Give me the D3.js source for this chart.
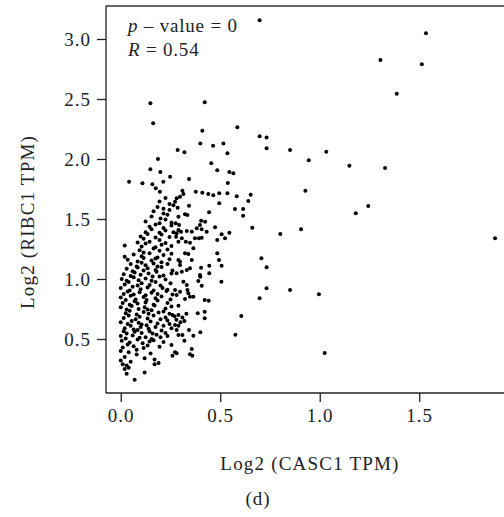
<!DOCTYPE html>
<html>
<head>
<meta charset="utf-8">
<script src="https://cdn.jsdelivr.net/npm/d3@7"></script>
<style>
  body { margin: 0; background: #fff; }
  svg { display: block; }
  text { font-family: "Liberation Serif", "DejaVu Serif", serif; fill: #222; }
</style>
</head>
<body>
<svg id="chart" width="504" height="517"></svg>
<script>
const width = 504;
const height = 517;
const margin = { top: 6, left: 106, bottom: 124, right: 0 };

const xTicks = [0, 0.5, 1.0, 1.5];
const yTicks = [0.5, 1.0, 1.5, 2.0, 2.5, 3.0];
const xTitle = "Log2 (CASC1 TPM)";
const yTitle = "Log2 (RIBC1 TPM)";
const pValue = "0";
const rValue = "0.54";
const panelLabel = "(d)";

// outlying points, read one by one
const sparsePoints = [
  [0.698, 3.156], [1.534, 3.047], [1.305, 2.825], [1.513, 2.79], [1.387, 2.544],
  [0.149, 2.465], [0.422, 2.473], [0.163, 2.297], [0.41, 2.236], [0.586, 2.264],
  [0.698, 2.19], [0.733, 2.18], [0.733, 2.09], [0.851, 2.075], [0.286, 2.075],
  [0.32, 2.056], [0.40, 2.13], [0.464, 2.11], [0.516, 2.13], [0.536, 2.047],
  [0.187, 2.0], [0.455, 1.964], [0.149, 1.914], [0.199, 1.892], [0.485, 1.906],
  [0.546, 1.892], [0.566, 1.881], [0.945, 1.99], [1.033, 2.061], [1.149, 1.944],
  [1.328, 1.925], [0.928, 1.736], [0.653, 1.703], [1.181, 1.547], [1.244, 1.608],
  [1.881, 1.339], [0.661, 1.428], [0.802, 1.375], [0.906, 1.414], [0.707, 1.172],
  [0.733, 1.097], [0.733, 0.922], [0.851, 0.908], [0.698, 0.839], [0.996, 0.872],
  [1.025, 0.383], [0.641, 1.65], [0.615, 1.583], [0.615, 1.528], [0.606, 0.692],
  [0.576, 0.536], [0.506, 0.978], [0.042, 1.81], [0.109, 1.797], [0.159, 1.79],
  [0.176, 1.756], [0.197, 1.727], [0.214, 1.81], [0.248, 1.853], [0.343, 1.833],
  [0.538, 1.80], [0.583, 1.69]
];

// right half of the main cloud (x above ~0.27)
const cloudRight = [
  [0.31,1.736],[0.315,1.708],[0.298,1.686],[0.377,1.727],[0.41,1.719],[0.44,1.708],
  [0.465,1.697],[0.495,1.714],[0.536,1.714],[0.281,1.672],[0.273,1.644],[0.495,1.631],
  [0.343,1.61],[0.574,1.583],[0.286,1.594],[0.444,1.556],[0.323,1.539],[0.335,1.533],
  [0.29,1.519],[0.276,1.464],[0.293,1.45],[0.29,1.408],[0.303,1.394],[0.281,1.381],
  [0.404,1.486],[0.424,1.478],[0.398,1.45],[0.382,1.422],[0.407,1.414],[0.432,1.394],
  [0.474,1.431],[0.332,1.40],[0.357,1.394],[0.507,1.372],[0.524,1.339],[0.546,1.386],
  [0.485,1.325],[0.278,1.353],[0.307,1.339],[0.29,1.311],[0.373,1.339],[0.393,1.339],
  [0.407,1.344],[0.327,1.311],[0.348,1.303],[0.365,1.256],[0.485,1.214],[0.494,1.158],
  [0.507,1.111],[0.323,1.214],[0.34,1.208],[0.29,1.158],[0.298,1.144],[0.357,1.158],
  [0.445,1.111],[0.404,1.094],[0.348,1.089],[0.298,1.117],[0.332,1.075],[0.307,1.061],
  [0.281,1.047],[0.398,1.033],[0.445,1.047],[0.40,1.019],[0.39,0.983],[0.407,0.944],
  [0.315,0.978],[0.332,0.95],[0.335,0.908],[0.298,0.894],[0.34,0.881],[0.348,0.853],
  [0.365,0.853],[0.273,0.908],[0.281,0.867],[0.323,0.833],[0.422,0.825],[0.442,0.819],
  [0.29,0.778],[0.422,0.728],[0.422,0.672],[0.387,0.714],[0.29,0.70],[0.31,0.68],
  [0.28,0.66],[0.30,0.64],[0.32,0.65],[0.29,0.61],[0.27,0.69],[0.33,0.71],
  [0.273,0.617],[0.281,0.575],[0.29,0.533],[0.40,0.556],[0.365,0.528],[0.343,0.575],
  [0.31,0.533],[0.32,0.486],[0.357,0.417],[0.348,0.372],[0.36,0.361],[0.281,0.381],
  [0.273,0.39]
];

// left half of the main cloud, estimated band by band
const cloudLeft = [
  [0.07,0.16],[0.03,0.21],[0.12,0.22],[0.02,0.25],[0.04,0.26],
  [0.01,0.29],[0.03,0.28],[0.17,0.29],[0.19,0.30],
  [0.00,0.32],[0.05,0.31],[0.17,0.33],
  [0.02,0.35],[0.08,0.37],[0.12,0.34],[0.26,0.36],
  [0.00,0.40],[0.04,0.39],[0.08,0.41],[0.15,0.38],
  [0.01,0.43],[0.035,0.455],[0.065,0.44],[0.115,0.425],[0.135,0.445],[0.195,0.435],[0.255,0.45],
  [0.005,0.485],[0.045,0.47],[0.085,0.495],[0.11,0.465],[0.145,0.48],[0.165,0.49],[0.215,0.475],
  [0.0,0.525],[0.025,0.505],[0.06,0.53],[0.095,0.51],[0.125,0.515],[0.155,0.5],[0.18,0.535],[0.2,0.515],[0.235,0.525],
  [0.015,0.565],[0.03,0.545],[0.07,0.56],[0.085,0.575],[0.105,0.55],[0.145,0.565],[0.16,0.545],[0.205,0.57],[0.225,0.55],
  [0.02,0.59],[0.05,0.61],[0.065,0.58],[0.1,0.6],[0.13,0.615],[0.14,0.585],[0.175,0.6],[0.215,0.61],[0.255,0.59],
  [0.0,0.64],[0.035,0.625],[0.055,0.65],[0.09,0.635],[0.105,0.62],[0.15,0.645],[0.185,0.63],[0.235,0.655],[0.245,0.625],
  [0.015,0.675],[0.04,0.695],[0.075,0.665],[0.095,0.685],[0.135,0.67],[0.165,0.695],[0.2,0.665],[0.225,0.68],[0.26,0.7],
  [0.025,0.715],[0.045,0.735],[0.08,0.705],[0.115,0.725],[0.14,0.71],[0.155,0.74],[0.19,0.72],[0.215,0.73],[0.245,0.71],
  [0.0,0.765],[0.03,0.745],[0.055,0.775],[0.09,0.75],[0.12,0.765],[0.135,0.745],[0.17,0.78],[0.225,0.755],[0.255,0.77],
  [0.01,0.8],[0.045,0.785],[0.07,0.815],[0.085,0.795],[0.125,0.805],[0.165,0.785],[0.185,0.82],[0.235,0.8],
  [0.0,0.845],[0.025,0.825],[0.05,0.86],[0.075,0.83],[0.115,0.85],[0.13,0.825],[0.175,0.84],[0.205,0.855],[0.25,0.83],
  [0.015,0.875],[0.035,0.895],[0.065,0.87],[0.095,0.89],[0.125,0.865],[0.155,0.885],[0.185,0.875],[0.23,0.9],[0.26,0.87],
  [0.0,0.925],[0.045,0.905],[0.06,0.935],[0.1,0.915],[0.135,0.93],[0.165,0.905],[0.21,0.925],[0.235,0.91],
  [0.02,0.955],[0.04,0.975],[0.085,0.945],[0.105,0.965],[0.145,0.95],[0.175,0.975],[0.2,0.945],[0.25,0.965],
  [0.005,1.0],[0.03,0.985],[0.065,1.015],[0.09,0.99],[0.125,1.005],[0.155,0.985],[0.195,1.02],[0.225,0.995],
  [0.015,1.04],[0.05,1.025],[0.07,1.055],[0.1,1.035],[0.14,1.045],[0.16,1.02],[0.18,1.06],[0.215,1.03],[0.255,1.045],
  [0.03,1.085],[0.06,1.065],[0.085,1.095],[0.115,1.07],[0.135,1.09],[0.175,1.075],[0.205,1.1],[0.26,1.07],
  [0.05,1.125],[0.08,1.105],[0.105,1.135],[0.125,1.115],[0.165,1.13],[0.185,1.105],[0.235,1.125],
  [0.035,1.16],[0.085,1.145],[0.115,1.175],[0.155,1.155],[0.175,1.17],[0.205,1.14],[0.245,1.165],
  [0.02,1.185],[0.065,1.205],[0.105,1.19],[0.145,1.215],[0.185,1.18],[0.215,1.2],[0.255,1.21],
  [0.095,1.24],[0.115,1.22],[0.165,1.255],[0.195,1.235],[0.235,1.245],
  [0.02,1.28],[0.105,1.27],[0.125,1.295],[0.175,1.265],[0.205,1.285],[0.255,1.275],
  [0.085,1.305],[0.115,1.335],[0.145,1.31],[0.195,1.325],[0.225,1.3],
  [0.1,1.355],[0.135,1.375],[0.175,1.345],[0.205,1.37],[0.245,1.35],
  [0.125,1.39],[0.155,1.415],[0.195,1.385],[0.225,1.405],[0.265,1.39],
  [0.145,1.435],[0.175,1.455],[0.215,1.425],[0.255,1.445],
  [0.125,1.48],[0.195,1.465],[0.225,1.495],[0.255,1.47],
  [0.155,1.52],[0.2,1.505],[0.235,1.535],
  [0.165,1.565],[0.215,1.545],[0.245,1.575],
  [0.185,1.6],[0.215,1.585],[0.265,1.615],
  [0.195,1.645],[0.245,1.625],
  [0.225,1.675]
];

const points = sparsePoints.concat(cloudRight, cloudLeft);

const svg = d3.select("#chart");

const x = d3.scaleLinear()
  .domain([-0.074, 1.926])
  .range([margin.left, width - margin.right]);

const y = d3.scaleLinear()
  .domain([0.05, 3.275])
  .range([height - margin.bottom, margin.top]);

// frame: top line, left axis, bottom axis
svg.append("line")
  .attr("x1", margin.left).attr("x2", width)
  .attr("y1", margin.top).attr("y2", margin.top)
  .attr("stroke", "#333").attr("stroke-width", 1.3);

const xAxis = svg.append("g")
  .attr("transform", `translate(0,${height - margin.bottom})`)
  .call(d3.axisBottom(x).tickValues(xTicks).tickFormat(d3.format(".1f")).tickSizeInner(9).tickSizeOuter(0).tickPadding(7));

const yAxis = svg.append("g")
  .attr("transform", `translate(${margin.left},0)`)
  .call(d3.axisLeft(y).tickValues(yTicks).tickFormat(d3.format(".1f")).tickSizeInner(9).tickSizeOuter(0).tickPadding(6));

[xAxis, yAxis].forEach(g => {
  g.select(".domain").attr("stroke", "#222").attr("stroke-width", 1.3);
  g.selectAll(".tick line").attr("stroke", "#222").attr("stroke-width", 1.3);
  g.selectAll(".tick text")
    .attr("fill", "#222")
    .style("font-family", "'Liberation Serif', serif")
    .style("font-size", "19px")
    .style("letter-spacing", "1px");
});
yAxis.select(".domain").attr("d", `M0,${margin.top}V${height - margin.bottom}`);
xAxis.select(".domain").attr("d", `M${margin.left},0H${width}`);

svg.append("g")
  .selectAll("circle")
  .data(points)
  .join("circle")
  .attr("cx", d => x(d[0]))
  .attr("cy", d => y(d[1]))
  .attr("r", 2)
  .attr("fill", "#000");

// annotation
const ann = svg.append("g").style("font-size", "19px").style("letter-spacing", "0.8px");
const t1 = ann.append("text").attr("x", 128).attr("y", 32);
t1.append("tspan").style("font-style", "italic").text("p");
t1.append("tspan").text(" \u2013 value = " + pValue);
const t2 = ann.append("text").attr("x", 128).attr("y", 56);
t2.append("tspan").style("font-style", "italic").text("R");
t2.append("tspan").text(" = " + rValue);

// titles
svg.append("text")
  .attr("x", 310).attr("y", 470)
  .attr("text-anchor", "middle")
  .style("font-size", "19px")
  .style("letter-spacing", "1.2px")
  .text(xTitle);

svg.append("text")
  .attr("transform", "translate(34,222) rotate(-90)")
  .attr("text-anchor", "middle")
  .style("font-size", "19px")
  .style("letter-spacing", "1.2px")
  .text(yTitle);

svg.append("text")
  .attr("x", 258).attr("y", 505)
  .attr("text-anchor", "middle")
  .style("font-size", "19px")
  .style("letter-spacing", "1px")
  .text(panelLabel);
</script>
</body>
</html>
